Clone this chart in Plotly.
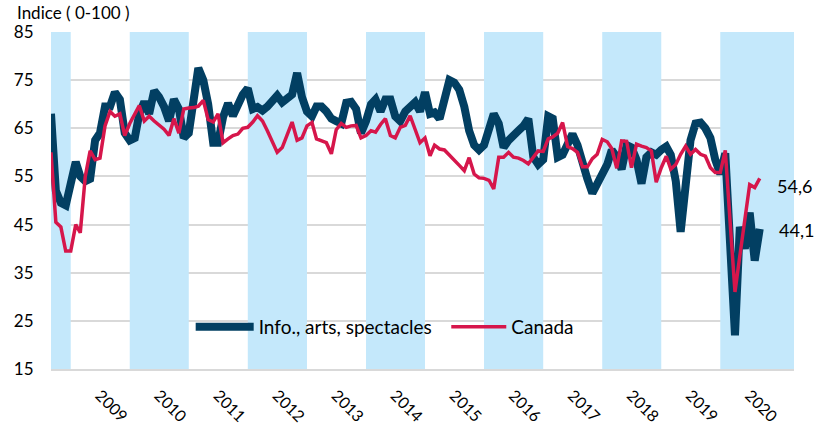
import pandas as pd
import plotly.graph_objects as go

START_MONTH = "2008-09-01"
info_arts = [68, 52, 49.5, 49, 53.5, 58, 55, 54, 54.5, 62.5, 64, 69.5, 69.5, 72.5, 71, 64,
             62.5, 63, 68, 70.5, 68, 72.8, 71.5, 69.5, 66.5, 71, 69, 63, 64, 70, 77.5, 75,
             70, 62, 62, 67.3, 70.2, 67.6, 70.4, 72, 73.3, 69, 69.4, 68.7, 69.5, 71, 71.8, 70.4,
             71, 72, 76.5, 71.5, 68.5, 67.5, 69.5, 69.5, 68.5, 67, 66.5, 66, 70.3, 70.5, 69, 64,
             66.5, 70, 71, 68.5, 71, 71, 67.5, 66.5, 68.5, 69.7, 70.4, 68.5, 72.5, 68, 68.3, 67,
             71, 75, 74.5, 73, 69.5, 64.5, 61.5, 60.5, 61.5, 65, 68, 66, 61, 62.5, 63.8, 64.5,
             65.5, 67, 59, 57.5, 58.5, 67.5, 67, 59, 59.5, 61.5, 63.8, 61.5, 57.5, 54.5, 51.5, 53.5,
             55.5, 57.5, 60.5, 59, 56.5, 61.5, 61, 58.5, 53.5, 59, 60, 59.5, 60.5, 61.2, 59.5, 54,
             43.5, 53, 62.5, 66, 66.2, 65, 63, 58.5, 55.5, 59.8, 41, 22, 44.5, 40, 47.5, 37.5, 44.1]
canada = [60, 45.5, 44.5, 39.5, 39.5, 45, 43.3, 55, 60.3, 58.5, 58.8, 65.5, 68.5, 67.5, 68, 63.5,
          66, 67.8, 69.7, 66.5, 67.5, 66.5, 65.7, 64.8, 63.5, 67, 64, 69, 69.2, 69.3, 69.6, 70.8,
          66.8, 66.3, 68, 62, 62.8, 63.5, 63.8, 65, 65.2, 66.3, 67.6, 66.5, 64.5, 62, 60, 61,
          63.5, 66.3, 62.5, 63, 65.5, 66.2, 62.8, 62.3, 62, 59.7, 64.7, 66, 65.2, 65.5, 65.6, 63,
          63.5, 64.5, 64.2, 65.8, 67, 63.5, 63, 65.2, 65.6, 67.6, 64.8, 62, 63, 59.3, 61.5, 60.7,
          60.5, 59.5, 58.5, 57.3, 56.2, 58.9, 55.5, 54.7, 54.6, 54.2, 52.4, 59, 59, 60, 59, 58.8,
          58.3, 57.6, 59, 60.3, 60.2, 62.8, 63.2, 64, 66.2, 61.2, 60.8, 60, 57, 57, 58.7, 59.6,
          62.7, 62.2, 60.8, 56.7, 62.4, 62.3, 56.8, 61.7, 61.3, 61, 60.3, 53.8, 56.8, 59.2, 56.5, 57.5,
          59.6, 61.3, 59.6, 60.6, 59.6, 59.2, 56.8, 55.8, 55.8, 60.4, 46, 31, 38.5, 46, 53.3, 52.7, 54.6]
year_labels = ["2009", "2010", "2011", "2012", "2013", "2014", "2015", "2016", "2017", "2018", "2019", "2020"]
band_years = ["2008", "2010", "2012", "2014", "2016", "2018", "2020"]
y_ticks = [15, 25, 35, 45, 55, 65, 75, 85]
end_labels = ["44,1", "54,6"]

dates = pd.date_range(START_MONTH, periods=len(info_arts), freq="MS")
X_START, X_END = "2008-09-01", "2021-04-01"

DARK = "#023f62"
RED = "#d6164b"
BAND = "#c4e8fb"
FONT = "Lato"

fig = go.Figure()
fig.add_trace(go.Scatter(x=dates, y=info_arts, mode="lines", name="Info., arts, spectacles",
                         line=dict(color=DARK, width=8), legend="legend", hoverinfo="skip"))
fig.add_trace(go.Scatter(x=dates, y=canada, mode="lines", name="Canada",
                         line=dict(color=RED, width=3.5), legend="legend2", hoverinfo="skip"))

for k, yr in enumerate(band_years):
    x0 = max(f"{yr}-01-01", X_START)
    x1 = X_END if k == len(band_years) - 1 else f"{int(yr) + 1}-01-01"
    fig.add_shape(type="rect", xref="x", yref="y", x0=x0, x1=x1, y0=15, y1=85,
                  fillcolor=BAND, line_width=0, layer="between")

fig.add_annotation(x=dates[-1], y=canada[-1], text=end_labels[1], showarrow=False,
                   xanchor="left", xshift=15, yshift=-8, font=dict(size=18, color="#000", family=FONT))
fig.add_annotation(x=dates[-1], y=info_arts[-1], text=end_labels[0], showarrow=False,
                   xanchor="left", xshift=17, yshift=-1, font=dict(size=18, color="#000", family=FONT))
fig.add_annotation(xref="paper", yref="paper", x=-0.0485, y=1.0, xanchor="left", yanchor="middle",
                   yshift=20, text="Indice ( 0-100 )", showarrow=False,
                   font=dict(size=17, color="#000", family=FONT))

legend_common = dict(orientation="h", yanchor="middle", xanchor="left", bgcolor="rgba(0,0,0,0)",
                     font=dict(size=19, color="#000", family=FONT), y=0.125)

fig.update_layout(
    width=814, height=427,
    margin=dict(l=51, r=20, t=32, b=58),
    paper_bgcolor="white", plot_bgcolor="white",
    font=dict(family=FONT, color="#000"),
    showlegend=True,
    hovermode=False,
    legend=dict(legend_common, x=0.188, itemwidth=58),
    legend2=dict(legend_common, x=0.532, itemwidth=55),
    xaxis=dict(range=[X_START, X_END], showgrid=False, zeroline=False, automargin=False,
               tickmode="array", tickvals=[f"{y}-07-01" for y in year_labels], ticktext=year_labels,
               tickangle=45, ticks="outside", ticklen=9, tickcolor="rgba(0,0,0,0)",
               tickfont=dict(size=16, family=FONT, color="#000"),
               showline=True, linecolor="#d9d9d9", linewidth=2),
    yaxis=dict(range=[15, 85], tickvals=y_ticks, showgrid=True, gridcolor="#d9d9d9", gridwidth=2,
               zeroline=False, automargin=False, ticks="outside", ticklen=13,
               tickcolor="rgba(0,0,0,0)",
               tickfont=dict(size=17, family=FONT, color="#000")),
)

fig.write_html("out.html", config={"displayModeBar": False, "staticPlot": True},
               post_script="document.body.style.margin='0';")
